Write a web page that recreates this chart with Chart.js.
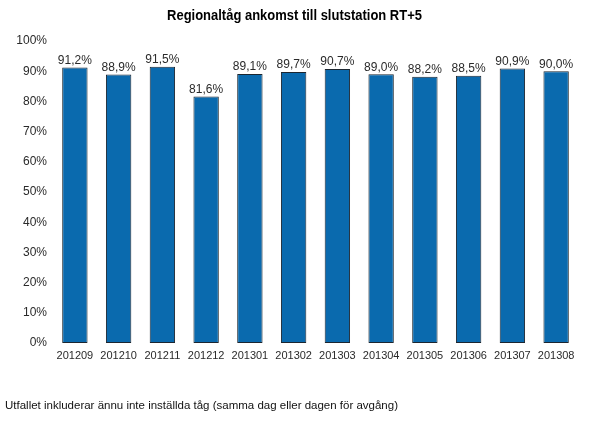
<!DOCTYPE html>
<html><head><meta charset="utf-8">
<script src="https://cdn.jsdelivr.net/npm/chart.js@4"></script>
<style>html,body{margin:0;padding:0;background:#fff}#w{width:600px;height:424px;position:relative}</style>
</head><body><div id="w"><canvas id="c" width="600" height="424"></canvas></div>
<script>
const categories = ["201209","201210","201211","201212","201301","201302","201303","201304","201305","201306","201307","201308"];
const values = [91.2, 88.9, 91.5, 81.6, 89.1, 89.7, 90.7, 89.0, 88.2, 88.5, 90.9, 90.0];
const yTicks = [0,10,20,30,40,50,60,70,80,90,100];
const titleText = "Regionaltåg ankomst till slutstation RT+5";
const footnote = "Utfallet inkluderar ännu inte inställda tåg (samma dag eller dagen för avgång)";

const fmt = v => v.toFixed(1).replace('.', ',') + '%';

function squeezedText(ctx, text, x, y, sx) {
  ctx.save();
  ctx.translate(x, y);
  ctx.scale(sx, 1);
  ctx.fillText(text, 0, 0);
  ctx.restore();
}

const extras = {
  id: 'extras',
  afterDatasetsDraw(chart) {
    const ctx = chart.ctx;
    const meta = chart.getDatasetMeta(0);
    ctx.save();
    // value labels
    ctx.fillStyle = '#2a2a2a';
    ctx.font = '12px "Liberation Sans", Arial, sans-serif';
    ctx.textAlign = 'center';
    ctx.textBaseline = 'bottom';
    meta.data.forEach((bar, i) => {
      ctx.fillText(fmt(values[i]), bar.x, bar.y - 1);
    });
    // title
    ctx.textBaseline = 'middle';
    ctx.font = 'bold 15px "Liberation Sans", Arial, sans-serif';
    ctx.fillStyle = '#000';
    squeezedText(ctx, titleText, 294.5, 16, 0.865);
    // footnote
    ctx.font = '11px "Liberation Sans", Arial, sans-serif';
    ctx.textAlign = 'left';
    ctx.fillStyle = '#111';
    squeezedText(ctx, footnote, 5, 406, 1.045);
    ctx.restore();
  }
};

new Chart(document.getElementById('c'), {
  type: 'bar',
  data: {
    labels: categories,
    datasets: [{
      data: values,
      backgroundColor: '#0A6AAE',
      borderColor: '#1c2630',
      borderWidth: 1,
      borderSkipped: false,
      barPercentage: 0.58,
      categoryPercentage: 1.0
    }]
  },
  options: {
    responsive: false,
    animation: false,
    devicePixelRatio: 1,
    layout: { padding: { top: 41, right: 22, left: 0, bottom: 0 } },
    plugins: { legend: { display: false }, title: { display: false }, tooltip: { enabled: false } },
    scales: {
      x: {
        grid: { display: false, drawTicks: false },
        border: { display: false },
        ticks: { color: '#2a2a2a', font: { family: '"Liberation Sans", Arial, sans-serif', size: 11 }, padding: 6, maxRotation: 0, autoSkip: false },
        afterFit: s => { s.height = 81; }
      },
      y: {
        min: 0, max: 100,
        afterBuildTicks: s => { s.ticks = yTicks.map(v => ({ value: v })); },
        grid: { display: false, drawTicks: false },
        border: { display: false },
        ticks: { color: '#2a2a2a', font: { family: '"Liberation Sans", Arial, sans-serif', size: 12 }, padding: 6, callback: v => v + '%' },
        afterFit: s => { s.width = 53; }
      }
    }
  },
  plugins: [extras]
});
</script>
</body></html>
